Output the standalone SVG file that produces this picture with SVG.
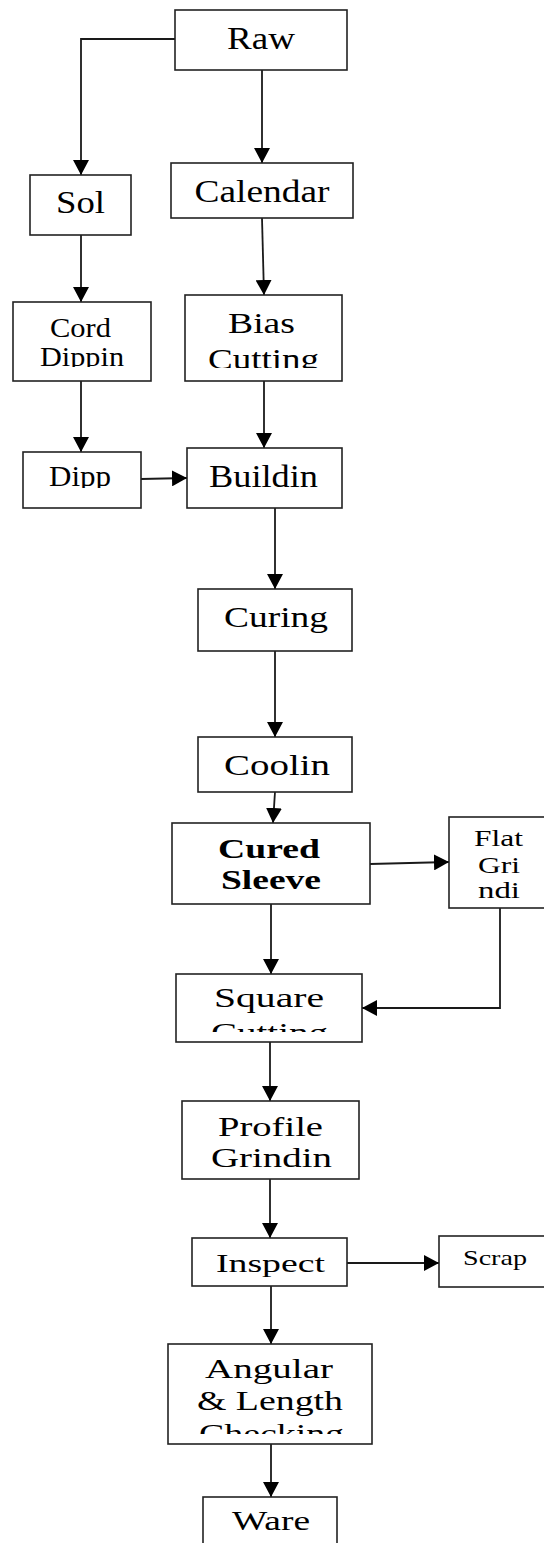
<svg xmlns="http://www.w3.org/2000/svg" width="544" height="1543" viewBox="0 0 544 1543">
<style>
.box{fill:#fff;stroke:#222;stroke-width:1.6}
.t{font-family:"Liberation Serif","Times New Roman",serif;fill:#000;text-anchor:middle}
.c{fill:none;stroke:#1a1a1a;stroke-width:1.8}
</style>
<defs>
<marker id="ah" viewBox="0 0 15 16" refX="15" refY="8" markerWidth="15" markerHeight="16" markerUnits="userSpaceOnUse" orient="auto">
<path d="M0,0 L15,8 L0,16 z" fill="#000"/>
</marker>
<clipPath id="clipCord"><rect x="13" y="302" width="138" height="65"/></clipPath>
<clipPath id="clipBias"><rect x="185" y="295" width="157" height="73"/></clipPath>
<clipPath id="clipDipp"><rect x="23" y="452" width="118" height="36"/></clipPath>
<clipPath id="clipSquare"><rect x="176" y="974" width="186" height="58"/></clipPath>
<clipPath id="clipAng"><rect x="168" y="1344" width="204" height="90"/></clipPath>
</defs>
<rect width="544" height="1543" fill="#fff"/>
<g id="connectors">
<path class="c" d="M175,39 H81 V175" marker-end="url(#ah)"/>
<path class="c" d="M262,70 V163" marker-end="url(#ah)"/>
<path class="c" d="M262,218 L264,295" marker-end="url(#ah)"/>
<path class="c" d="M81,235 V302" marker-end="url(#ah)"/>
<path class="c" d="M81,381 V452" marker-end="url(#ah)"/>
<path class="c" d="M264,381 V448" marker-end="url(#ah)"/>
<path class="c" d="M141,479 L187,478" marker-end="url(#ah)"/>
<path class="c" d="M275,508 V589" marker-end="url(#ah)"/>
<path class="c" d="M275,651 V737" marker-end="url(#ah)"/>
<path class="c" d="M275,792 L273,823" marker-end="url(#ah)"/>
<path class="c" d="M370,864 L449,862" marker-end="url(#ah)"/>
<path class="c" d="M271,904 V974" marker-end="url(#ah)"/>
<path class="c" d="M500,908 V1008 H362" marker-end="url(#ah)"/>
<path class="c" d="M270,1042 V1101" marker-end="url(#ah)"/>
<path class="c" d="M270,1179 V1238" marker-end="url(#ah)"/>
<path class="c" d="M347,1263 H439" marker-end="url(#ah)"/>
<path class="c" d="M271,1286 V1344" marker-end="url(#ah)"/>
<path class="c" d="M271,1444 V1497" marker-end="url(#ah)"/>
</g>
<g id="raw"><rect class="box" x="175" y="10" width="172" height="60"/><text class="t" x="261" y="49" font-size="31" textLength="68" lengthAdjust="spacingAndGlyphs">Raw</text></g>
<g id="calendar"><rect class="box" x="171" y="163" width="182" height="55"/><text class="t" x="262" y="202" font-size="31" textLength="135" lengthAdjust="spacingAndGlyphs">Calendar</text></g>
<g id="sol"><rect class="box" x="30" y="175" width="101" height="60"/><text class="t" x="80.5" y="213" font-size="31" textLength="49" lengthAdjust="spacingAndGlyphs">Sol</text></g>
<g id="cord"><rect class="box" x="13" y="302" width="138" height="79"/><g clip-path="url(#clipCord)"><text class="t" x="80.5" y="337" font-size="28" textLength="61" lengthAdjust="spacingAndGlyphs">Cord</text><text class="t" x="82" y="366" font-size="28" textLength="84" lengthAdjust="spacingAndGlyphs">Dippin</text></g></g>
<g id="bias"><rect class="box" x="185" y="295" width="157" height="86"/><g clip-path="url(#clipBias)"><text class="t" x="261.5" y="333" font-size="30" textLength="67" lengthAdjust="spacingAndGlyphs">Bias</text><text class="t" x="263.5" y="369" font-size="30" textLength="111" lengthAdjust="spacingAndGlyphs">Cutting</text></g></g>
<g id="dipp"><rect class="box" x="23" y="452" width="118" height="56"/><g clip-path="url(#clipDipp)"><text class="t" x="80" y="486" font-size="29" textLength="62" lengthAdjust="spacingAndGlyphs">Dipp</text></g></g>
<g id="buildin"><rect class="box" x="187" y="448" width="155" height="60"/><text class="t" x="263.5" y="487" font-size="32" textLength="109" lengthAdjust="spacingAndGlyphs">Buildin</text></g>
<g id="curing"><rect class="box" x="198" y="589" width="154" height="62"/><text class="t" x="276" y="627" font-size="30" textLength="104" lengthAdjust="spacingAndGlyphs">Curing</text></g>
<g id="coolin"><rect class="box" x="198" y="737" width="154" height="55"/><text class="t" x="277" y="775" font-size="30" textLength="106" lengthAdjust="spacingAndGlyphs">Coolin</text></g>
<g id="cured"><rect class="box" x="172" y="823" width="198" height="81"/><text class="t" x="269" y="858" font-size="27" font-weight="bold" textLength="102" lengthAdjust="spacingAndGlyphs">Cured</text><text class="t" x="271" y="889" font-size="27" font-weight="bold" textLength="100" lengthAdjust="spacingAndGlyphs">Sleeve</text></g>
<g id="flat"><rect class="box" x="449" y="817" width="97" height="91"/><text class="t" x="498.5" y="846" font-size="23" textLength="49" lengthAdjust="spacingAndGlyphs">Flat</text><text class="t" x="499" y="873" font-size="23" textLength="42" lengthAdjust="spacingAndGlyphs">Gri</text><text class="t" x="499" y="898" font-size="23" textLength="42" lengthAdjust="spacingAndGlyphs">ndi</text></g>
<g id="square"><rect class="box" x="176" y="974" width="186" height="68"/><g clip-path="url(#clipSquare)"><text class="t" x="269" y="1007" font-size="27" textLength="110" lengthAdjust="spacingAndGlyphs">Square</text><text class="t" x="269.5" y="1042" font-size="27" textLength="117" lengthAdjust="spacingAndGlyphs">Cutting</text></g></g>
<g id="profile"><rect class="box" x="182" y="1101" width="177" height="78"/><text class="t" x="270.5" y="1136" font-size="27" textLength="105" lengthAdjust="spacingAndGlyphs">Profile</text><text class="t" x="271.5" y="1167" font-size="27" textLength="121" lengthAdjust="spacingAndGlyphs">Grindin</text></g>
<g id="inspect"><rect class="box" x="192" y="1238" width="155" height="48"/><text class="t" x="270.5" y="1272" font-size="26" textLength="109" lengthAdjust="spacingAndGlyphs">Inspect</text></g>
<g id="scrap"><rect class="box" x="439" y="1236" width="107" height="51"/><text class="t" x="495" y="1265" font-size="22" textLength="64" lengthAdjust="spacingAndGlyphs">Scrap</text></g>
<g id="angular"><rect class="box" x="168" y="1344" width="204" height="100"/><g clip-path="url(#clipAng)"><text class="t" x="269" y="1378" font-size="27" textLength="128" lengthAdjust="spacingAndGlyphs">Angular</text><text class="t" x="270" y="1410" font-size="27" textLength="146" lengthAdjust="spacingAndGlyphs">&amp; Length</text><text class="t" x="271.5" y="1443" font-size="27" textLength="145" lengthAdjust="spacingAndGlyphs">Checking</text></g></g>
<g id="ware"><rect class="box" x="203" y="1497" width="134" height="50"/><text class="t" x="271" y="1530" font-size="27" textLength="78" lengthAdjust="spacingAndGlyphs">Ware</text></g>
</svg>
